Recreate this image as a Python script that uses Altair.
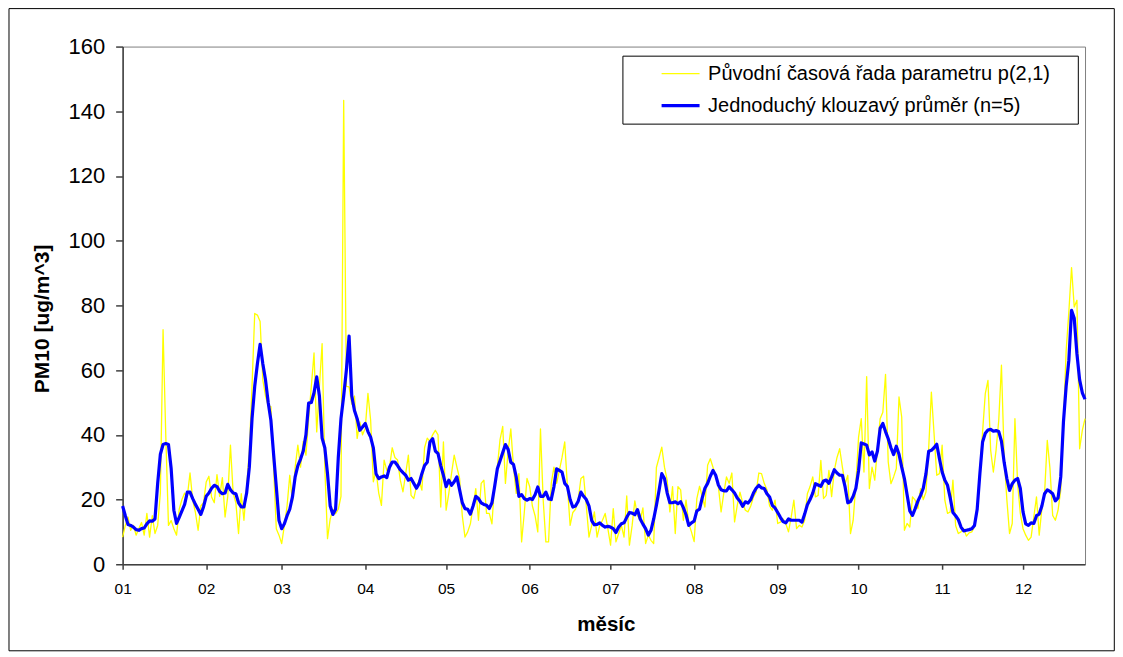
import json
import altair as alt
import pandas as pd

# ---------------- data ----------------
month_labels = ["01", "02", "03", "04", "05", "06", "07", "08", "09", "10", "11", "12"]
month_starts = [0, 31, 59, 90, 120, 151, 181, 212, 243, 273, 304, 334]
y_ticks = [0, 20, 40, 60, 80, 100, 120, 140, 160]
series_names = ["Původní časová řada parametru p(2,1)", "Jednoduchý klouzavý průměr (n=5)"]

raw_values = [
    8.4, 12, 14.6, 10.5, 12, 9, 11, 12.9, 9, 15.7,
    8.4, 15, 9.5, 12, 22, 72.5, 40, 12, 13.5, 11,
    9, 17, 20, 22, 21, 28.2, 19.8, 16, 10.5, 18,
    19, 25.4, 27.2, 20.8, 19, 27.7, 21, 26.8, 14.6, 21,
    36.8, 22, 19, 9.5, 21.8, 13.6, 24, 35, 55, 77.5,
    77, 75, 57, 52, 49, 48.7, 30, 11, 9, 6.4,
    12, 18, 27.5, 19.3, 30, 36.8, 30, 38, 33.7, 45,
    55, 65.3, 40.9, 55, 68.2, 30, 7.9, 14, 17, 15.6,
    17, 21, 143.4, 55, 54.8, 49.5, 52, 38.9, 44, 40,
    42, 52.8, 44.5, 25.5, 29, 22, 18.2, 32.2, 29, 30,
    36, 33, 32.2, 26, 22.4, 28, 33.7, 21.3, 20.3, 24,
    26, 22.9, 36, 39, 38, 40, 41.4, 40, 17.7, 37.8,
    16.7, 21.9, 28, 33.7, 30, 26.5, 15, 8.4, 10, 12.5,
    18, 23.4, 13.6, 25, 26, 15.7, 15.7, 12.5, 25, 30,
    38.5, 42.6, 25, 35, 41.8, 30, 21.9, 28, 6.9, 16,
    26.5, 24, 18, 15, 10, 41.8, 20, 6.9, 6.9, 25,
    30, 25, 29, 33, 37.8, 24, 12, 16, 17, 20,
    26.5, 27.2, 18, 8.4, 12, 16.2, 8.4, 12, 13.6, 15.7,
    11, 5.9, 17.2, 6.9, 9.5, 12, 8.4, 21.1, 5.9, 12,
    19.6, 15, 13.6, 17.4, 6.4, 9, 7.4, 6.4, 29.9, 33,
    36.2, 30, 26, 16.2, 24, 9.5, 24, 23, 13.6, 19.8,
    12.6, 10, 7, 20.3, 24.1, 21, 17.7, 30.6, 32.6, 30,
    27, 24, 16.2, 22, 27, 25, 28.2, 13.1, 18.2, 22.3,
    19, 16.7, 16.2, 18, 20.8, 22.3, 28.2, 28, 25, 23,
    18, 16.7, 19.8, 12.6, 13, 14, 12.6, 10, 14.6, 19.8,
    11, 12, 11.5, 13.6, 21.8, 24, 27, 20.8, 21.3, 32.1,
    20.3, 21.3, 29, 20.9, 29, 33, 35.7, 30, 24.9, 27.5,
    9.5, 13.6, 24.9, 39.3, 45, 28.5, 58, 23.4, 30, 26,
    35.7, 45, 47, 58.7, 31.6, 24.9, 27, 29.6, 51.7, 45.5,
    10.5, 12.6, 11.5, 20.8, 19.8, 17.2, 23.4, 20, 22.3, 35.7,
    53.2, 40.4, 27.5, 28, 36.8, 19.8, 15.7, 16.2, 26, 12,
    9.5, 10, 11, 8.7, 9.7, 10, 11.5, 17.7, 29, 40.9,
    52.7, 56.8, 35.2, 28.5, 35.2, 44.5, 61.5, 33.2, 20, 9.5,
    12.6, 45, 24.9, 15.7, 11, 9, 7.4, 8.4, 14.6, 20.8,
    9, 17.2, 22, 38.3, 29.6, 15.1, 13.6, 16.7, 22.9, 43.5,
    66, 78, 91.7, 79.5, 81.6, 35.7, 41.4, 45,
]

ma_values = [
    18, 15, 12.3, 12, 11.5, 10.7, 10.5, 11, 11.2, 12.5,
    13.4, 13.3, 14, 25, 34, 37, 37.3, 37, 29.6, 16.7,
    12.6, 14.5, 16.5, 18.5, 22.3, 22.3, 20.3, 18.5, 17, 15.4,
    17.7, 21, 22, 23.5, 24.4, 24, 22.5, 21.8, 22, 24.7,
    23, 22, 21.8, 19, 17.7, 17.7, 22, 30, 45, 55,
    62, 68, 62, 57, 50, 44.5, 34, 24, 13.5, 11,
    12.5, 15, 17, 20.8, 27, 30.5, 32.5, 35, 40, 49.8,
    50, 53, 57.9, 52, 39, 36, 28, 18, 15.4, 17,
    33, 45, 52, 60, 70.5, 52, 47.5, 45, 41.4, 42.4,
    43.5, 41, 39.3, 36, 28, 26.5, 27, 27.3, 26.8, 30,
    31.6, 31.6, 30.5, 29.2, 28.3, 27.5, 26, 26.5, 25, 23.5,
    25, 28, 30.5, 31.5, 37.8, 38.8, 35, 34.2, 30.5, 27.5,
    24, 26, 24.4, 25.5, 27, 23, 19, 17.2, 17, 15.5,
    18, 21, 20.3, 19, 18.5, 18.2, 17.2, 19, 24, 29.5,
    32, 34.5, 37, 35.5, 31.5, 30.8, 27, 21, 21.5, 20.3,
    19.8, 20.3, 20, 21.5, 23.9, 21, 21, 22.3, 20.2, 20,
    24, 29.5, 29, 28.5, 25, 24, 20, 17.7, 18, 19.5,
    22.3, 21, 20, 18, 13.5, 12.2, 12.3, 12.8, 12, 11.5,
    11.7, 11.5, 11, 9.8, 11.5, 12.5, 12.8, 14.5, 16, 15.8,
    15.3, 16.9, 14, 12.4, 11, 9, 10.5, 14, 18.2, 22.9,
    28, 26.5, 22, 19, 19, 19.3, 18.7, 19.3, 17.5, 15.3,
    12, 12.8, 13.3, 16.5, 17, 20.5, 23.5, 25, 27.2, 29,
    27.5, 24.5, 23, 22.7, 22.7, 23.9, 23, 22, 20.5, 19.5,
    17.9, 19.3, 18.9, 20, 22, 23.5, 24.4, 23.6, 23.4, 21.8,
    20.8, 18.2, 17.4, 16, 14.5, 13.2, 12.8, 14, 13.6, 13.6,
    13.6, 13.6, 13, 15.5, 18.4, 20, 22, 24.9, 24.5, 24.1,
    25.7, 26, 25, 27, 29.2, 28.2, 27.5, 27.5, 23.9, 19,
    19.4, 21, 23.5, 29, 37.5, 37.2, 36.8, 33.8, 34.7, 31.9,
    35, 42, 43.5, 41, 38.8, 36, 33.9, 36.5, 34, 30,
    26.5, 21.5, 16.5, 15.1, 17.2, 19.5, 21.3, 23.5, 28, 34.9,
    35.2, 36, 37.1, 32.6, 28.5, 26, 24.4, 20.5, 16, 15,
    13.8, 11.5, 10.3, 10.5, 10.7, 11, 12, 17, 28, 37.8,
    40.5, 41.5, 41.7, 41.1, 41.3, 41, 38, 31.5, 26.5, 22.8,
    24.9, 26, 26.5, 23.4, 16.2, 12.5, 12, 12.8, 12.6, 15,
    15.5, 18, 21.8, 23, 22.5, 21.8, 19.6, 20.5, 27, 44,
    55, 63, 78.5, 76, 65, 57, 53, 51,
]

n = len(raw_values)
days = list(range(n))
df = pd.DataFrame({
    "day": days + days,
    "value": raw_values + ma_values,
    "series": [series_names[0]] * n + [series_names[1]] * len(ma_values),
})

# ---------------- layout ----------------
W, H = 963, 518
FONT = "Liberation Sans"

label_expr = "{}[indexof({}, datum.value)]".format(json.dumps(month_labels), json.dumps(month_starts))

x_enc = alt.X(
    "day:Q",
    scale=alt.Scale(domain=[0, n - 1], nice=False, zero=False),
    axis=alt.Axis(
        values=month_starts, labelExpr=label_expr, title="měsíc",
        tickSize=5, labelFontSize=15.5, labelPadding=12, labelAlign="center",
        labelFlush=False, titleFontSize=20.5, titleFontWeight="bold",
        titleX=W / 2 + 2, titleY=60, titleBaseline="middle", titleAlign="center",
    ),
)
y_enc = alt.Y(
    "value:Q",
    scale=alt.Scale(domain=[0, 160], nice=False),
    axis=alt.Axis(
        values=y_ticks, title="PM10 [ug/m^3]", tickSize=7, labelFontSize=22,
        labelPadding=11, titleFontSize=21, titleFontWeight="bold",
        titleX=-80, titleY=272, titleBaseline="middle", titleAlign="center",
    ),
)

legend = alt.Legend(
    title=None, orient="none", legendX=546.8, legendY=16.5,
    symbolType="M-2,0H2", symbolSize=361, labelOffset=16,
    labelFontSize=20, labelFont=FONT, rowPadding=10, padding=0,
    labelLimit=600,
)
color_enc = alt.Color(
    "series:N",
    scale=alt.Scale(domain=series_names, range=["#FFFF00", "#0000FF"]),
    legend=legend,
)
width_enc = alt.StrokeWidth(
    "series:N",
    scale=alt.Scale(domain=series_names, range=[1.3, 3.2]),
    legend=legend,
)

base = alt.Chart(df).encode(x=x_enc, y=y_enc, color=color_enc, strokeWidth=width_enc)

raw_line = base.transform_filter(alt.datum.series == series_names[0]).mark_line(strokeJoin="round")
ma_line = base.transform_filter(alt.datum.series == series_names[1]).mark_line(strokeJoin="round")

one = pd.DataFrame({"k": [0]})
legend_box = alt.Chart(one).mark_rect(fill="white", stroke="black", strokeWidth=1).encode(
    x=alt.value(500.6), x2=alt.value(956.3), y=alt.value(9.6), y2=alt.value(77.6)
)
outer_frame = alt.Chart(one).mark_rect(fillOpacity=0, stroke="black", strokeWidth=1).encode(
    x=alt.value(-113.7), x2=alt.value(992.3), y=alt.value(-38), y2=alt.value(604.6)
)

chart = (
    alt.layer(outer_frame, raw_line, ma_line, legend_box)
    .properties(
        width=W, height=H,
        autosize=alt.AutoSizeParams(type="none"),
        padding={"left": 114.7, "top": 38.4, "right": 30, "bottom": 90},
    )
    .configure_view(stroke="#808080", strokeWidth=1)
    .configure_axis(
        grid=False, domainColor="#404040", tickColor="#404040", domainWidth=1.5,
        tickWidth=1.5, labelFont=FONT, titleFont=FONT, labelColor="black",
        titleColor="black",
    )
    .configure_legend(labelFont=FONT, labelColor="black")
)

chart.save("out.html", embed_options={"renderer": "svg", "actions": False})
